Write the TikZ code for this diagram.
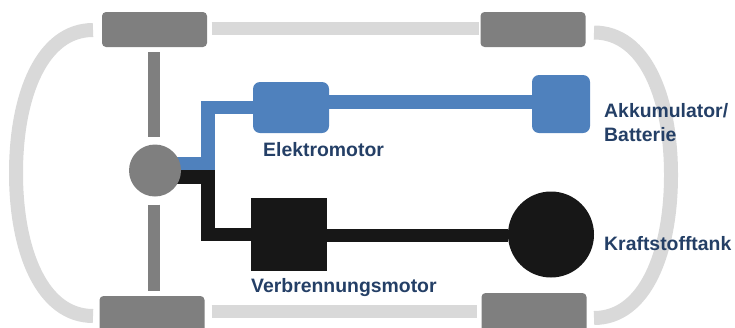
\documentclass[tikz,border=0pt]{standalone}
\usepackage{fontspec}
\setmainfont{Liberation Sans}
\usetikzlibrary{backgrounds,calc}
\definecolor{whl}{HTML}{7F7F7F}
\definecolor{bodyg}{HTML}{D9D9D9}
\definecolor{blu}{HTML}{4F81BD}
\definecolor{blk}{HTML}{171717}
\definecolor{lbl}{HTML}{243F66}
\tikzset{
  x=1pt,y=-1pt,
  wheel/.style={fill=whl,rounded corners=4pt,minimum width=105pt,minimum height=35pt,inner sep=0pt,draw=none},
  bodyline/.style={draw=bodyg,line width=13pt},
  axle/.style={draw=whl,line width=12pt},
  hubnode/.style={circle,fill=whl,minimum size=52pt,inner sep=0pt},
  bluebox/.style={fill=blu,rounded corners=7pt,inner sep=0pt},
  blackbox/.style={fill=blk,inner sep=0pt},
  blueline/.style={draw=blu,line width=13.5pt,miter limit=10},
  blackline/.style={draw=blk,line width=13.5pt,miter limit=10},
  lab/.style={text=lbl,font=\fontsize{19.4}{24}\selectfont\bfseries,inner sep=0pt,align=left},
}
\begin{document}
\begin{tikzpicture}
\useasboundingbox (0,0) rectangle (735,327);
\begin{scope}
\clip (0,0) rectangle (735,327);
\node[wheel] (tl) at (154.5,29.5) {};
\node[wheel] (tr) at (533,29.5) {};
\node[wheel,minimum height=50pt] (bl) at (152,321) {};
\node[wheel,minimum height=50pt] (br) at (534,318) {};
\end{scope}
\node[hubnode] (hub) at (155,170.5) {};
\node[bluebox,minimum width=76pt,minimum height=51pt] (em) at (291,107.5) {};
\node[bluebox,minimum width=58pt,minimum height=58pt] (bat) at (561,104) {};
\node[blackbox,minimum width=76pt,minimum height=73pt] (vm) at (289,234.5) {};
\node[circle,fill=blk,minimum size=86pt,inner sep=0pt] (tank) at (551,234.5) {};

\node[lab,anchor=base west] (tem) at (263,156) {Elektromotor};
\node[lab,anchor=base west] (tak) at (604,117) {Akkumulator/};
\node[lab,anchor=base west] (tba) at (604,141) {Batterie};
\node[lab,anchor=base west] (tkr) at (604,250) {Kraftstofftank};
\node[lab,anchor=base west] (tvb) at (251,292) {Verbrennungsmotor};

\begin{scope}[on background layer]
  % vehicle body
  \draw[bodyline] ($(tl.east)+(4.5,-1)$) -- ($(tr.west)+(-1,-1)$);
  \draw[bodyline] ($(bl.east)+(7,-9.5)$) -- ($(br.west)+(-4.5,-6.5)$);
  \draw[bodyline,line width=14pt] (93,30) .. controls (42,30) and (16,95) .. (16,173) .. controls (16,251) and (42,316) .. (93,316);
  \draw[bodyline,line width=14pt] (594,32.5) .. controls (645,32.5) and (671,97) .. (671,175) .. controls (671,253) and (645,318) .. (594,318);
  % axle
  \draw[axle] ($(tl.south)+(-0.5,5)$) -- ($(hub.north)+(-1,-7)$);
  \draw[axle] ($(hub.south)+(-1,8)$) -- ($(bl.north)+(2,-5)$);
  % drive lines
  \draw[blueline] ($(hub.center)+(0,-6.5)$) -- ++(53,0) |- (em.west);
  \draw[blueline] ($(em.east)+(0,-5.5)$) -- ($(bat.west)+(0,-2)$);
  \draw[blackline] ($(hub.center)+(0,6.5)$) -- ++(53,0) |- (vm.west);
  \draw[blackline] ($(vm.east)+(0,1)$) -- ($(tank.west)+(0,1)$);
\end{scope}
\end{tikzpicture}
\end{document}
